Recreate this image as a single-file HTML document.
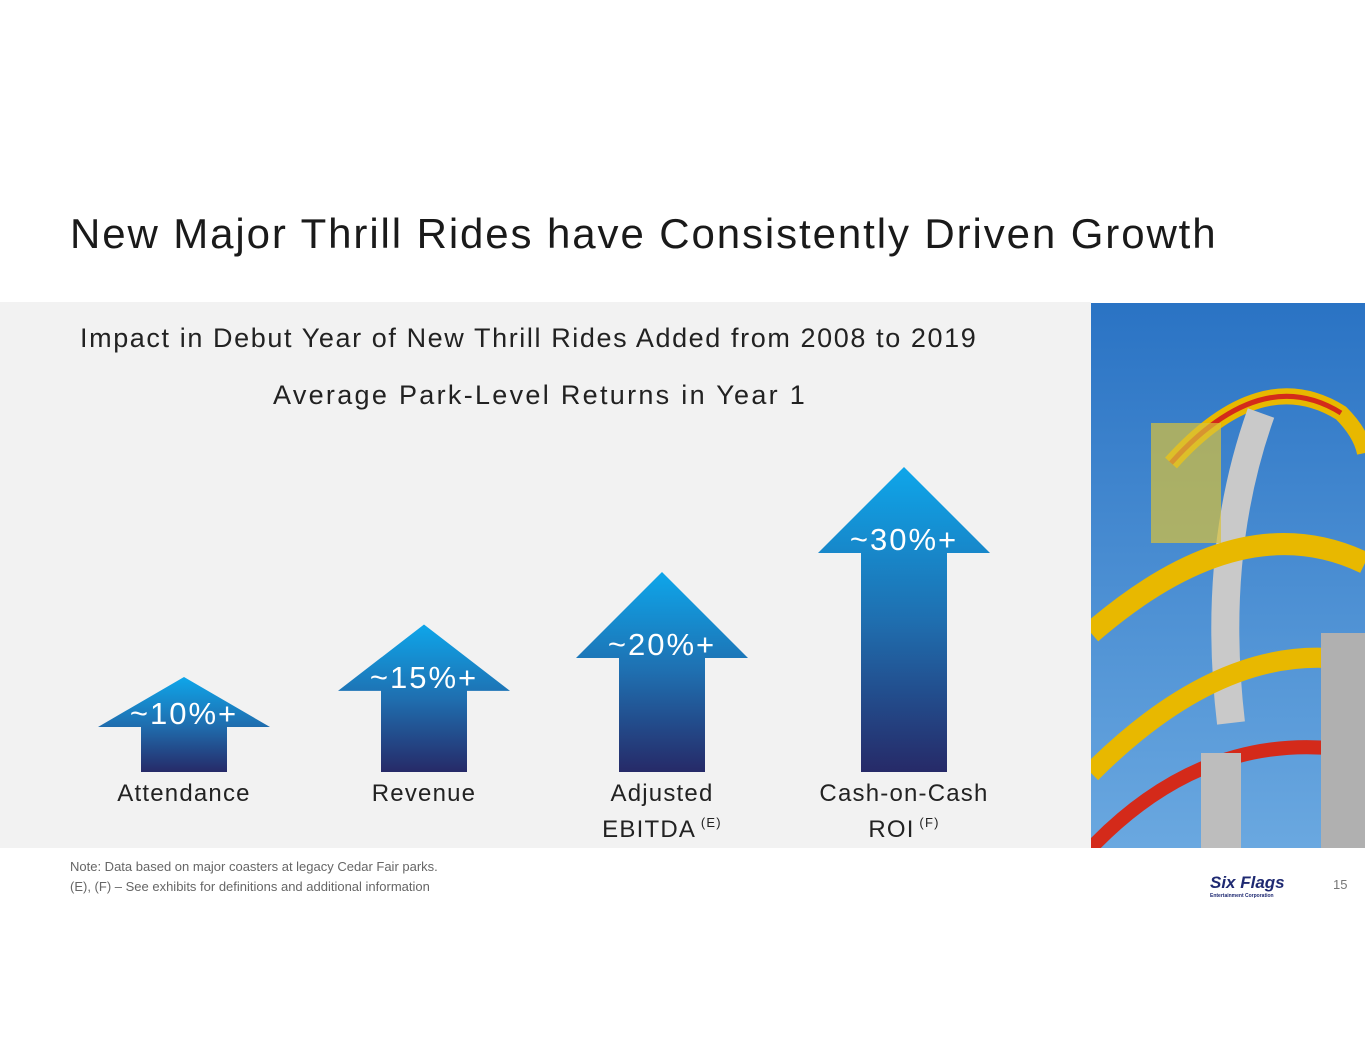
<!DOCTYPE html>
<html><head><meta charset="utf-8">
<style>
body{margin:0;width:1365px;height:1055px;background:#fff;font-family:"Liberation Sans",sans-serif;position:relative;overflow:hidden}
.abs{position:absolute;white-space:nowrap}
</style></head>
<body>
<div class="abs" style="left:70px;top:210px;font-size:42px;color:#1a1a1a;letter-spacing:1.9px">New Major Thrill Rides have Consistently Driven Growth</div>
<div class="abs" style="left:0;top:302px;width:1091px;height:546px;background:#f2f2f2"></div>
<svg class="abs" style="left:1091px;top:303px" width="274" height="545">
<defs><linearGradient id="sky" x1="0" y1="0" x2="0" y2="1"><stop offset="0" stop-color="#2a73c4"/><stop offset="1" stop-color="#6aa8e0"/></linearGradient></defs>
<rect width="274" height="545" fill="url(#sky)"/>
<path d="M80 160 Q170 60 250 110 Q270 130 274 150" stroke="#e8b800" stroke-width="16" fill="none"/>
<path d="M80 160 Q170 60 250 110" stroke="#d42a1a" stroke-width="5" fill="none"/>
<path d="M170 110 Q120 250 140 420" stroke="#c9c9c9" stroke-width="28" fill="none"/>
<path d="M0 330 Q150 200 274 260" stroke="#e8b800" stroke-width="22" fill="none"/>
<path d="M0 470 Q140 330 274 360" stroke="#e8b800" stroke-width="20" fill="none"/>
<path d="M0 545 Q120 420 274 450" stroke="#d42a1a" stroke-width="14" fill="none"/>
<rect x="110" y="450" width="40" height="95" fill="#bdbdbd"/>
<rect x="230" y="330" width="44" height="215" fill="#b0b0b0"/>
<rect x="60" y="120" width="70" height="120" fill="#d8c23a" opacity="0.7"/>
</svg>
<div class="abs" style="left:80px;top:323px;font-size:27px;color:#222;letter-spacing:1.6px">Impact in Debut Year of New Thrill Rides Added from 2008 to 2019</div>
<div class="abs" style="left:273px;top:380px;font-size:27px;color:#222;letter-spacing:2.3px">Average Park-Level Returns in Year 1</div>
<svg id="chart" class="abs" style="left:0;top:0" width="1091" height="848">
<defs><linearGradient id="ag" x1="0" y1="0" x2="0" y2="1"><stop offset="0" stop-color="#0ea6ea"/><stop offset="0.5" stop-color="#1f6fb0"/><stop offset="1" stop-color="#262a68"/></linearGradient></defs>
</svg>
<div class="abs" style="left:70px;top:857px;font-size:13px;color:#666;line-height:20px">Note: Data based on major coasters at legacy Cedar Fair parks.<br>(E), (F) – See exhibits for definitions and additional information</div>
<div class="abs" style="left:1210px;top:873px;font-size:17px;font-weight:bold;color:#1f2a72;font-style:italic">Six Flags</div>
<div class="abs" style="left:1210px;top:893px;font-size:5px;font-weight:bold;color:#1f2a72">Entertainment Corporation</div>
<div class="abs" style="left:1333px;top:877px;font-size:13px;color:#777">15</div>
<script>
const categories=["Attendance","Revenue","Adjusted|EBITDA","Cash-on-Cash|ROI"];
const supers=["","","(E)","(F)"];
const values=[10,15,20,30];
const valueLabels=["~10%+","~15%+","~20%+","~30%+"];
const svg=document.getElementById('chart');
const NS="http://www.w3.org/2000/svg";
const base=772, k=10.5, off=-10;
const centers=[184,424,662,904];
function y(v){return base-Math.max(60,off+k*v);}
values.forEach((v,i)=>{
  const cx=centers[i], tip=y(v), h=base-tip;
  const hd=Math.min(86,Math.max(50,h*0.45));
  const hb=tip+hd;
  const p=document.createElementNS(NS,'path');
  p.setAttribute('d',`M${cx} ${tip} L${cx+86} ${hb} L${cx+43} ${hb} L${cx+43} ${base} L${cx-43} ${base} L${cx-43} ${hb} L${cx-86} ${hb} Z`);
  p.setAttribute('fill','url(#ag)');
  
  
  svg.appendChild(p);
  const t=document.createElementNS(NS,'text');
  t.setAttribute('x',cx);t.setAttribute('y',hb-3);
  t.setAttribute('text-anchor','middle');t.setAttribute('fill','#fff');
  t.setAttribute('font-size','31');t.setAttribute('font-family','Liberation Sans, sans-serif');
  t.setAttribute('letter-spacing','2');
  t.textContent=valueLabels[i];
  
  
  svg.appendChild(t);
  categories[i].split('|').forEach((line,j)=>{
    const c=document.createElementNS(NS,'text');
    c.setAttribute('x',cx);c.setAttribute('y',801+j*36);
    c.setAttribute('text-anchor','middle');c.setAttribute('fill','#222');
    c.setAttribute('font-size','24');c.setAttribute('font-family','Liberation Sans, sans-serif');
    c.setAttribute('letter-spacing','1.2');
    c.textContent=line;
    if(j===1&&supers[i]){const s=document.createElementNS(NS,'tspan');s.setAttribute('font-size','13');s.setAttribute('dy','-10');s.textContent=' '+supers[i];c.appendChild(s);}
    
    
    svg.appendChild(c);
  });
});
</script>
</body></html>
